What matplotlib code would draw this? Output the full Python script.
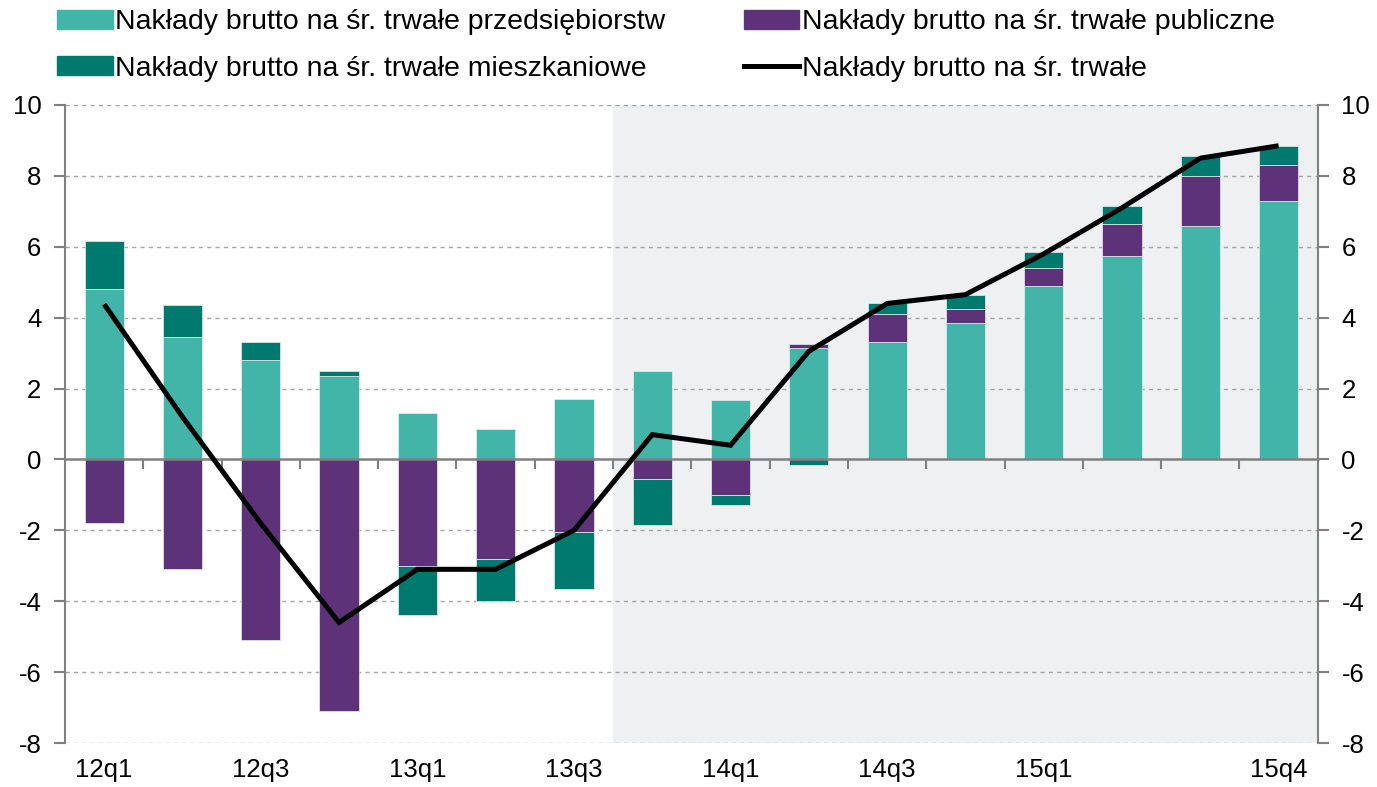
import matplotlib
matplotlib.use("Agg")
import matplotlib.pyplot as plt
import numpy as np
from matplotlib.patches import Patch
from matplotlib.lines import Line2D

plt.rcParams['font.family'] = ['Liberation Sans', 'DejaVu Sans']
plt.rcParams['axes.unicode_minus'] = False

quarters = ['12q1', '12q2', '12q3', '12q4', '13q1', '13q2', '13q3', '13q4',
            '14q1', '14q2', '14q3', '14q4', '15q1', '15q2', '15q3', '15q4']
business = [4.8, 3.45, 2.8, 2.35, 1.3, 0.87, 1.7, 2.5, 1.68, 3.15, 3.3, 3.85, 4.9, 5.75, 6.6, 7.3]
public = [-1.8, -3.1, -5.1, -7.1, -3.0, -2.8, -2.05, -0.55, -1.0, 0.1, 0.8, 0.4, 0.5, 0.9, 1.4, 1.0]
housing = [1.35, 0.9, 0.5, 0.15, -1.4, -1.2, -1.6, -1.3, -0.28, -0.15, 0.3, 0.4, 0.45, 0.5, 0.55, 0.55]
total = [4.38, 1.2, -1.8, -4.6, -3.1, -3.1, -2.0, 0.7, 0.4, 3.05, 4.4, 4.65, 5.8, 7.1, 8.5, 8.85]
label_quarters = ['12q1', '12q3', '13q1', '13q3', '14q1', '14q3', '15q1', '15q4']
forecast_start = '13q4'

c_bus = '#43B4A8'
c_pub = '#5E3279'
c_hou = '#007A6E'

fig = plt.figure(figsize=(13.77, 7.87), dpi=100)
ax = fig.add_axes([0.0472, 0.0559, 0.9098, 0.8107])

x = np.arange(len(quarters))
series = [(business, c_bus), (public, c_pub), (housing, c_hou)]
pos_base = np.zeros(len(x))
neg_base = np.zeros(len(x))
for vals, col in series:
    v = np.array(vals)
    bottoms = np.where(v >= 0, pos_base, neg_base)
    ax.bar(x, v, width=0.5, bottom=bottoms, color=col, edgecolor='#E8F0EE',
           linewidth=0.5, zorder=3)
    pos_base = pos_base + np.where(v >= 0, v, 0)
    neg_base = neg_base + np.where(v < 0, v, 0)

ax.plot(x, total, color='black', linewidth=3.6, zorder=5, solid_capstyle='butt',
        solid_joinstyle='miter')

fs = quarters.index(forecast_start)
ax.axvspan(fs - 0.5, len(quarters) - 0.5, color='#EEF0F2', zorder=0, lw=0)

ax.set_xlim(-0.5, len(quarters) - 0.5)
ax.set_ylim(-8, 10)
yt = np.arange(-8, 11, 2)
for yv in yt:
    if yv != 0:
        ax.axhline(yv, color='#A6A6A6', linestyle=(0, (3, 3)), linewidth=1.0, zorder=1)

ax.spines['top'].set_visible(False)
ax.spines['left'].set_color('#808080')
ax.spines['left'].set_linewidth(1.5)
ax.spines['right'].set_color('#808080')
ax.spines['right'].set_linewidth(1.5)
ax.spines['bottom'].set_position(('data', 0))
ax.spines['bottom'].set_color('#808080')
ax.spines['bottom'].set_linewidth(1.8)
ax.spines['bottom'].set_zorder(4)

ax.set_xticks(x[:-1] + 0.5)
ax.set_xticklabels([])
ax.tick_params(axis='x', direction='out', length=7, width=1.5, color='#808080')

ax.set_yticks(yt)
ax.set_yticklabels([str(v) for v in yt], fontsize=18.5)
ax.tick_params(axis='y', direction='out', length=8, width=1.5, color='#808080', pad=9)

ax2 = ax.twinx()
ax2.set_ylim(ax.get_ylim())
ax2.set_yticks(yt)
ax2.set_yticklabels([str(v) for v in yt], fontsize=18.5)
ax2.tick_params(axis='y', direction='out', length=8, width=1.5, color='#808080', pad=9)
for s in ['top', 'bottom', 'left', 'right']:
    ax2.spines[s].set_visible(False)

sec = ax.secondary_xaxis('bottom')
sec.set_xticks([quarters.index(q) for q in label_quarters])
sec.set_xticklabels(label_quarters, fontsize=18.5)
sec.tick_params(length=0, pad=11)
sec.spines['bottom'].set_visible(False)

handles = [Patch(color=c_bus), Patch(color=c_hou), Patch(color=c_pub),
           Line2D([0], [0], color='black', linewidth=3.6)]
labels = ['Nakłady brutto na śr. trwałe przedsiębiorstw',
          'Nakłady brutto na śr. trwałe mieszkaniowe',
          'Nakłady brutto na śr. trwałe publiczne',
          'Nakłady brutto na śr. trwałe']
fig.legend(handles, labels, ncol=2, loc='upper left', bbox_to_anchor=(0.0414, 0.988),
           frameon=False, fontsize=20.5, handlelength=1.95, handleheight=0.65,
           handletextpad=0.1, columnspacing=2.75, labelspacing=0.72,
           borderaxespad=0, borderpad=0)

fig.savefig('out.png', dpi=100)
